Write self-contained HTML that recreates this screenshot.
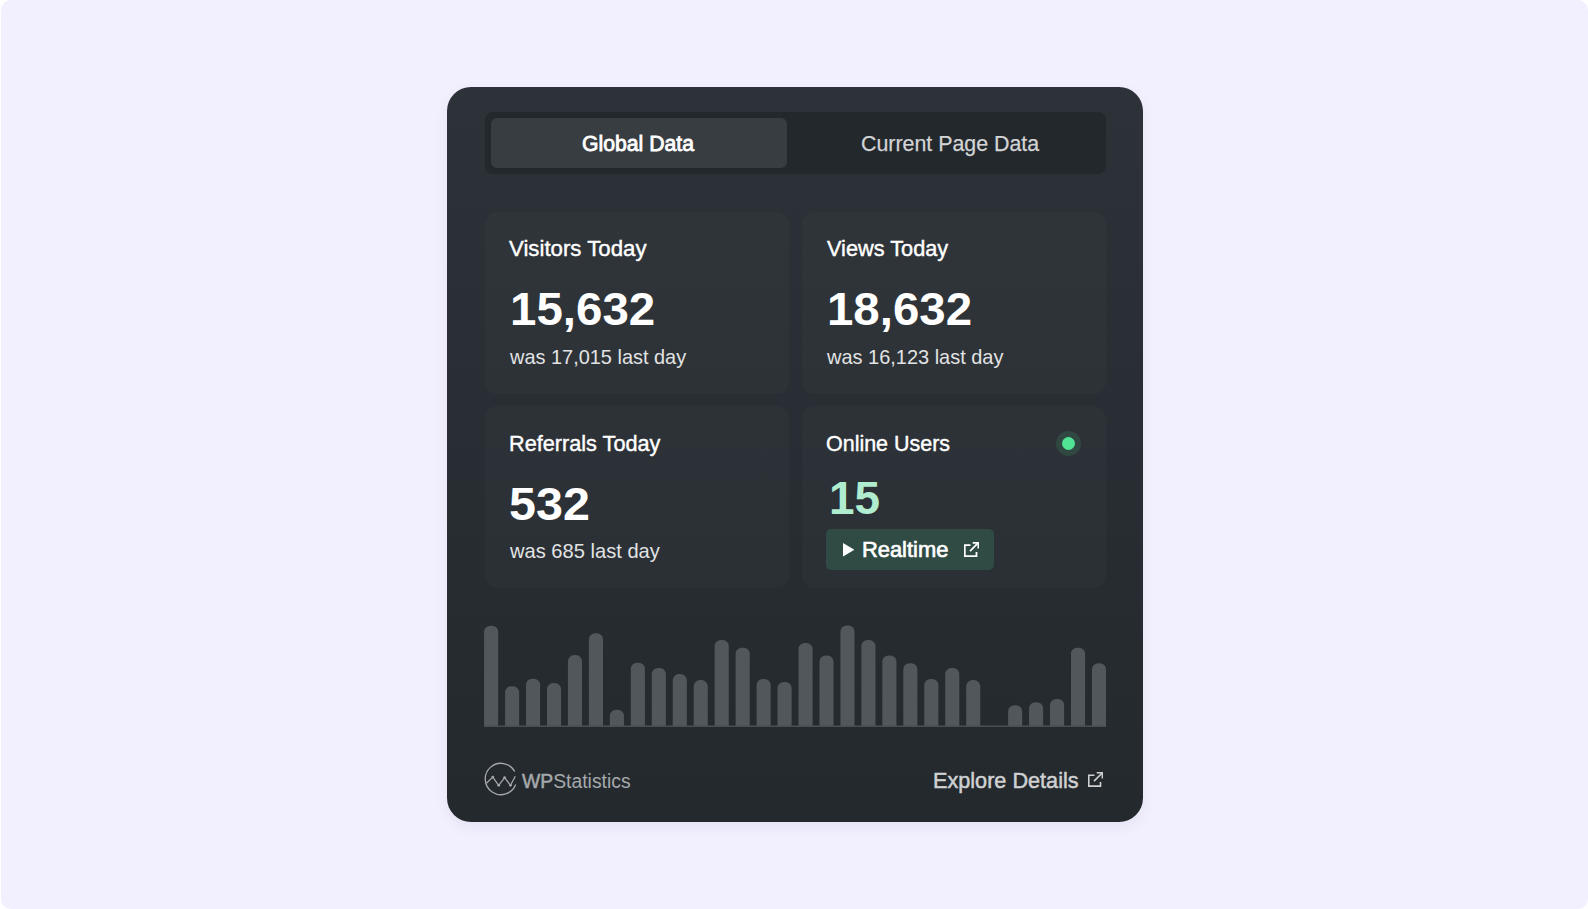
<!DOCTYPE html>
<html lang="en">
<head>
<meta charset="utf-8">
<title>WP Statistics</title>
<style>
*{box-sizing:border-box;margin:0;padding:0}
html,body{width:1588px;height:909px;background:#fff;overflow:hidden}
body{font-family:"Liberation Sans",sans-serif;position:relative}
.page{position:absolute;left:0.8px;top:0;width:1587.2px;height:909px;background:#f2f0fe;border-radius:10px}
.card{position:absolute;left:447px;top:87px;width:696px;height:735px;border-radius:24px;
 background:linear-gradient(180deg,#2c3238 0%,#24292e 100%);
 box-shadow:0 5px 14px rgba(70,70,110,.07)}
.abs{position:absolute}
.tx{position:absolute;white-space:nowrap;line-height:1;transform-origin:0 50%}
.tabs{position:absolute;left:485px;top:112px;width:621px;height:62px;border-radius:8px;background:#23282d}
.tab-on{position:absolute;left:490.5px;top:118px;width:296.5px;height:50px;border-radius:6px;background:#383d42}
.stat{position:absolute;width:304.5px;height:182px;border-radius:12px;background:rgba(255,255,255,.018)}
.bars{position:absolute;left:484.1px;top:619.8px}
</style>
</head>
<body>
<div class="page"></div>
<div class="card"></div>

<div class="tabs"></div>
<div class="tab-on"></div>

<div class="stat" style="left:484.5px;top:211.5px"></div>
<div class="stat" style="left:801.5px;top:211.5px"></div>
<div class="stat" style="left:484.5px;top:406px"></div>
<div class="stat" style="left:801.5px;top:406px"></div>

<div class="abs" style="left:1055.8px;top:431px;width:24.8px;height:24.8px;border-radius:50%;background:rgba(80,230,150,.12)"></div>
<div class="abs" style="left:1061.7px;top:436.9px;width:13px;height:13px;border-radius:50%;background:#50e595"></div>

<div class="abs" id="rt" style="left:826px;top:529px;width:168.2px;height:40.8px;border-radius:5px;background:#304b44"></div>
<svg class="abs" style="left:842.9px;top:543px" width="11.4" height="13.6" viewBox="0 0 11.4 13.6"><path d="M0 0 L11.4 6.8 L0 13.6 Z" fill="#fff"/></svg>
<svg class="abs" id="ic1" style="left:963.8px;top:541.9px" width="15.5" height="15.5" viewBox="0 0 16 16" fill="none" stroke="#fff" stroke-width="1.85"><path d="M6.7 3.3H0.8V14.6H12.9V10.2"/><path d="M9 0.78H14.85V6.6"/><path d="M14.6 1L6.2 9.4"/></svg>

<svg class="bars" viewBox="0 0 621.94 108" width="621.94" height="108"><g fill="#52575b"><path d="M0.10 107.0V11.90A6.2 6.2 0 0 1 6.30 5.70H8.00A6.2 6.2 0 0 1 14.20 11.90V107.0Z"/><path d="M21.06 107.0V72.40A6.2 6.2 0 0 1 27.26 66.20H28.96A6.2 6.2 0 0 1 35.16 72.40V107.0Z"/><path d="M42.02 107.0V64.90A6.2 6.2 0 0 1 48.22 58.70H49.92A6.2 6.2 0 0 1 56.12 64.90V107.0Z"/><path d="M62.98 107.0V69.30A6.2 6.2 0 0 1 69.18 63.10H70.88A6.2 6.2 0 0 1 77.08 69.30V107.0Z"/><path d="M83.94 107.0V41.30A6.2 6.2 0 0 1 90.14 35.10H91.84A6.2 6.2 0 0 1 98.04 41.30V107.0Z"/><path d="M104.90 107.0V19.40A6.2 6.2 0 0 1 111.10 13.20H112.80A6.2 6.2 0 0 1 119.00 19.40V107.0Z"/><path d="M125.86 107.0V95.90A6.2 6.2 0 0 1 132.06 89.70H133.76A6.2 6.2 0 0 1 139.96 95.90V107.0Z"/><path d="M146.82 107.0V49.00A6.2 6.2 0 0 1 153.02 42.80H154.72A6.2 6.2 0 0 1 160.92 49.00V107.0Z"/><path d="M167.78 107.0V54.20A6.2 6.2 0 0 1 173.98 48.00H175.68A6.2 6.2 0 0 1 181.88 54.20V107.0Z"/><path d="M188.74 107.0V60.30A6.2 6.2 0 0 1 194.94 54.10H196.64A6.2 6.2 0 0 1 202.84 60.30V107.0Z"/><path d="M209.70 107.0V66.30A6.2 6.2 0 0 1 215.90 60.10H217.60A6.2 6.2 0 0 1 223.80 66.30V107.0Z"/><path d="M230.66 107.0V26.10A6.2 6.2 0 0 1 236.86 19.90H238.56A6.2 6.2 0 0 1 244.76 26.10V107.0Z"/><path d="M251.62 107.0V34.00A6.2 6.2 0 0 1 257.82 27.80H259.52A6.2 6.2 0 0 1 265.72 34.00V107.0Z"/><path d="M272.58 107.0V65.10A6.2 6.2 0 0 1 278.78 58.90H280.48A6.2 6.2 0 0 1 286.68 65.10V107.0Z"/><path d="M293.54 107.0V68.10A6.2 6.2 0 0 1 299.74 61.90H301.44A6.2 6.2 0 0 1 307.64 68.10V107.0Z"/><path d="M314.50 107.0V29.20A6.2 6.2 0 0 1 320.70 23.00H322.40A6.2 6.2 0 0 1 328.60 29.20V107.0Z"/><path d="M335.46 107.0V41.60A6.2 6.2 0 0 1 341.66 35.40H343.36A6.2 6.2 0 0 1 349.56 41.60V107.0Z"/><path d="M356.42 107.0V11.70A6.2 6.2 0 0 1 362.62 5.50H364.32A6.2 6.2 0 0 1 370.52 11.70V107.0Z"/><path d="M377.38 107.0V26.10A6.2 6.2 0 0 1 383.58 19.90H385.28A6.2 6.2 0 0 1 391.48 26.10V107.0Z"/><path d="M398.34 107.0V41.60A6.2 6.2 0 0 1 404.54 35.40H406.24A6.2 6.2 0 0 1 412.44 41.60V107.0Z"/><path d="M419.30 107.0V49.40A6.2 6.2 0 0 1 425.50 43.20H427.20A6.2 6.2 0 0 1 433.40 49.40V107.0Z"/><path d="M440.26 107.0V65.10A6.2 6.2 0 0 1 446.46 58.90H448.16A6.2 6.2 0 0 1 454.36 65.10V107.0Z"/><path d="M461.22 107.0V54.20A6.2 6.2 0 0 1 467.42 48.00H469.12A6.2 6.2 0 0 1 475.32 54.20V107.0Z"/><path d="M482.18 107.0V66.30A6.2 6.2 0 0 1 488.38 60.10H490.08A6.2 6.2 0 0 1 496.28 66.30V107.0Z"/><path d="M524.10 107.0V91.40A6.2 6.2 0 0 1 530.30 85.20H532.00A6.2 6.2 0 0 1 538.20 91.40V107.0Z"/><path d="M545.06 107.0V88.40A6.2 6.2 0 0 1 551.26 82.20H552.96A6.2 6.2 0 0 1 559.16 88.40V107.0Z"/><path d="M566.02 107.0V85.10A6.2 6.2 0 0 1 572.22 78.90H573.92A6.2 6.2 0 0 1 580.12 85.10V107.0Z"/><path d="M586.98 107.0V34.00A6.2 6.2 0 0 1 593.18 27.80H594.88A6.2 6.2 0 0 1 601.08 34.00V107.0Z"/><path d="M607.94 107.0V49.40A6.2 6.2 0 0 1 614.14 43.20H615.84A6.2 6.2 0 0 1 622.04 49.40V107.0Z"/></g><rect x="0" y="105.5" width="621.94" height="1.5" fill="#4a4f54"/></svg>

<svg class="abs" id="logo" style="left:483.6px;top:762.4px" width="34" height="34" viewBox="0 0 34 34" fill="none" stroke="#a6a9ab" stroke-width="1.3"><path d="M31.66 22.50A15.7 15.7 0 1 1 30.75 9.51"/><path d="M2.4 21.2L8.8 15.1L14.7 23.3L20.6 15.6L26.5 23.3L31.3 14.2" stroke-linejoin="round" stroke-width="1.25"/><g fill="#a6a9ab" stroke="none"><circle cx="8.8" cy="15.1" r="1.35"/><circle cx="14.7" cy="23.3" r="1.35"/><circle cx="20.6" cy="15.6" r="1.35"/><circle cx="26.5" cy="23.3" r="1.35"/></g></svg>

<svg class="abs" id="ic2" style="left:1087.9px;top:772.1px" width="15.5" height="15.5" viewBox="0 0 16 16" fill="none" stroke="#d0d1d2" stroke-width="1.65"><path d="M6.7 3.3H0.8V14.6H12.9V10.2"/><path d="M9 0.78H14.85V6.6"/><path d="M14.6 1L6.2 9.4"/></svg>

<div class="tx" id="t1" style="left:582.40px;top:133.87px;font-size:21.3px;color:#ffffff;transform:scaleX(0.9957);-webkit-text-stroke:0.8px #ffffff">Global Data</div>
<div class="tx" id="t2" style="left:860.87px;top:133.15px;font-size:22.6px;color:#d3d4d5;transform:scaleX(0.9459);-webkit-text-stroke:0.25px #d3d4d5">Current Page Data</div>
<div class="tx" id="l1" style="left:509.46px;top:238.33px;font-size:22.1px;color:#ffffff;transform:scaleX(1.0058);-webkit-text-stroke:0.4px #ffffff">Visitors Today</div>
<div class="tx" id="n1" style="left:510.46px;top:284.93px;font-size:47.0px;color:#ffffff;transform:scaleX(1.0100);font-weight:700">15,632</div>
<div class="tx" id="s1" style="left:509.85px;top:346.99px;font-size:20.6px;color:#e2e3e4;transform:scaleX(0.9678)">was 17,015 last day</div>
<div class="tx" id="l2" style="left:826.77px;top:238.17px;font-size:22.1px;color:#ffffff;transform:scaleX(0.9831);-webkit-text-stroke:0.4px #ffffff">Views Today</div>
<div class="tx" id="n2" style="left:827.46px;top:284.72px;font-size:47.0px;color:#ffffff;transform:scaleX(1.0086);font-weight:700">18,632</div>
<div class="tx" id="s2" style="left:827.23px;top:346.99px;font-size:20.6px;color:#e2e3e4;transform:scaleX(0.9692)">was 16,123 last day</div>
<div class="tx" id="l3" style="left:508.61px;top:433.35px;font-size:22.1px;color:#ffffff;transform:scaleX(0.9810);-webkit-text-stroke:0.4px #ffffff">Referrals Today</div>
<div class="tx" id="n3" style="left:509.41px;top:480.33px;font-size:47.0px;color:#ffffff;transform:scaleX(1.0309);font-weight:700">532</div>
<div class="tx" id="s3" style="left:509.95px;top:541.39px;font-size:20.6px;color:#e2e3e4;transform:scaleX(0.9767)">was 685 last day</div>
<div class="tx" id="l4" style="left:825.63px;top:432.90px;font-size:22.1px;color:#ffffff;transform:scaleX(0.9713);-webkit-text-stroke:0.4px #ffffff">Online Users</div>
<div class="tx" id="n4" style="left:828.81px;top:474.23px;font-size:47.0px;color:#b0ecd0;transform:scaleX(0.9768);font-weight:700">15</div>
<div class="tx" id="rtt" style="left:862.34px;top:539.12px;font-size:21.7px;color:#ffffff;transform:scaleX(1.0085);-webkit-text-stroke:0.65px #ffffff">Realtime</div>
<div class="tx" id="wps" style="left:522.37px;top:772.12px;font-size:19.4px;color:#a6a9ab;transform:scaleX(0.9981)"><span style="-webkit-text-stroke:0.5px #a6a9ab">WP</span>Statistics</div>
<div class="tx" id="ex" style="left:932.66px;top:769.58px;font-size:22.1px;color:#d0d1d2;transform:scaleX(0.9799);-webkit-text-stroke:0.5px #d0d1d2">Explore Details</div>
</body>
</html>
